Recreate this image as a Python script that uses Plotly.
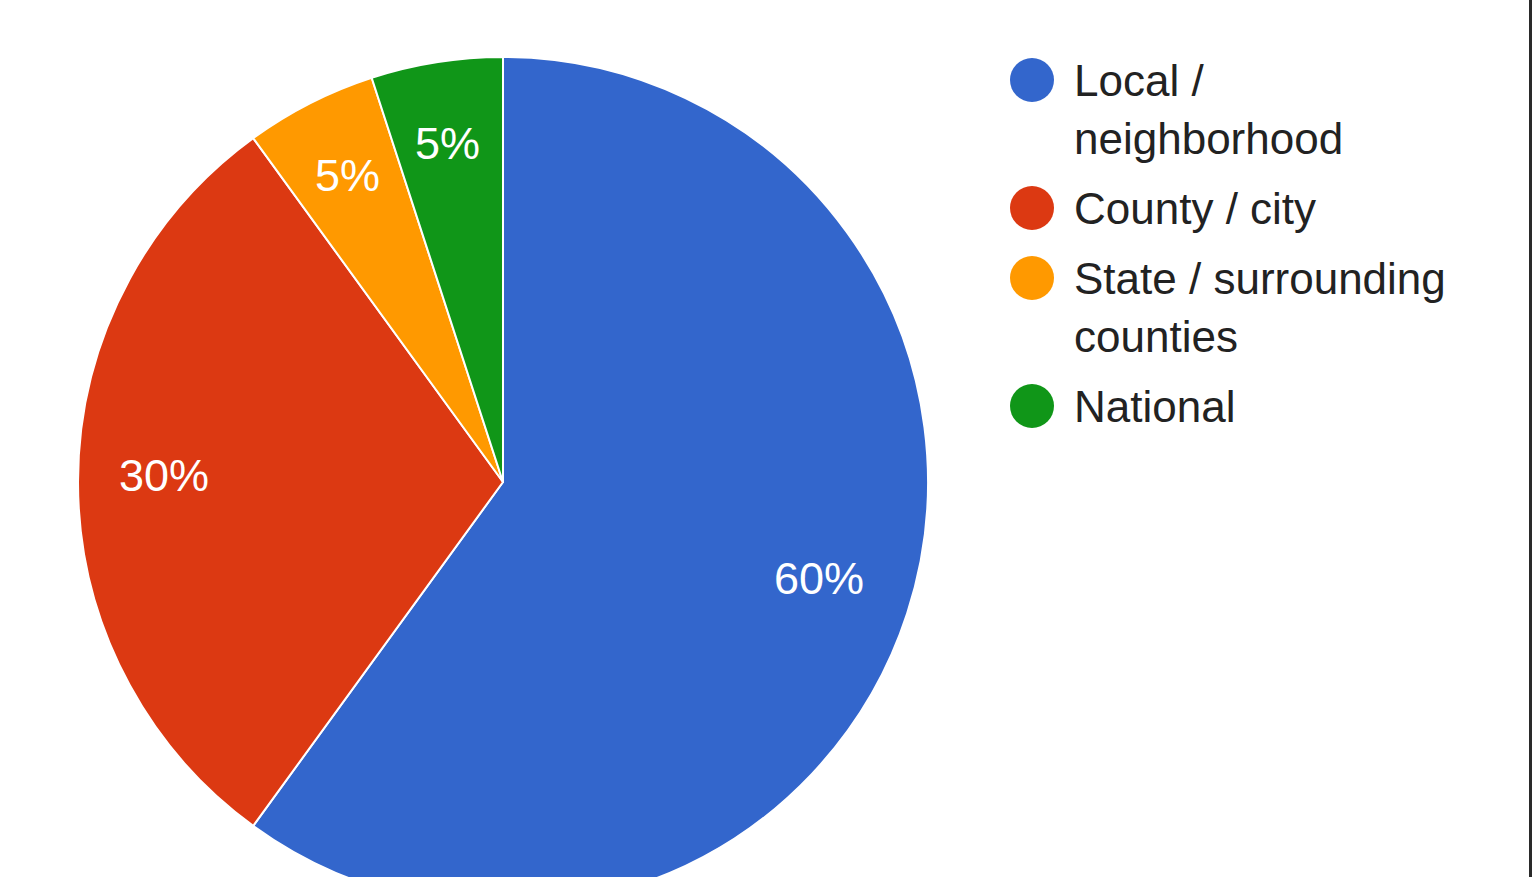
import math
import plotly.graph_objects as go

# ---- data ----
categories = ["Local / neighborhood", "County / city", "State / surrounding counties", "National"]
legend_lines = [["Local /", "neighborhood"], ["County / city"], ["State / surrounding", "counties"], ["National"]]
values = [60, 30, 5, 5]
colors = ["#3366cc", "#dc3912", "#ff9900", "#109618"]

# ---- layout geometry (pixels) ----
W, H = 1533, 1000
CX, CY, R = 503, 482, 425
FONT = "Liberation Sans, Arial, sans-serif"

fig = go.Figure()
fig.add_trace(go.Pie(
    labels=categories, values=values, sort=False, direction="clockwise", rotation=0,
    marker=dict(colors=colors, line=dict(color="white", width=2)),
    textinfo="none", hoverinfo="label+percent", showlegend=False,
    domain=dict(x=[(CX - 445) / W, (CX + 445) / W],
                y=[1 - (CY + R) / H, 1 - (CY - R) / H]),
))

# slice labels (positions derived from the data)
total = sum(values)
cum = 0
annotations = []
for v in values:
    mid = (cum + v / 2) / total
    cum += v
    th = 2 * math.pi * mid
    rr = R * 0.79
    annotations.append(dict(
        x=CX + rr * math.sin(th), y=CY - rr * math.cos(th), xref="x", yref="y",
        text=f"{round(100 * v / total)}%", showarrow=False, xshift=-3, yshift=7,
        font=dict(family=FONT, size=45, color="white"),
        xanchor="center", yanchor="middle"))

# custom legend with circle symbols
LX, LTX, LY0, LINE, STEP = 1032, 1072, 80, 58, 70
y = LY0
for i, lines in enumerate(legend_lines):
    fig.add_trace(go.Scatter(x=[LX], y=[y], mode="markers", showlegend=False, hoverinfo="skip",
                             marker=dict(size=44, color=colors[i], line=dict(width=0)),
                             xaxis="x", yaxis="y"))
    for j, line in enumerate(lines):
        annotations.append(dict(x=LTX, y=y + j * LINE, xref="x", yref="y", text=line,
                                showarrow=False, xanchor="left", yanchor="middle",
                                font=dict(family=FONT, size=44, color="#222222")))
    y += (len(lines) - 1) * LINE + STEP

fig.update_layout(
    width=W, height=H, margin=dict(l=0, r=0, t=0, b=0),
    paper_bgcolor="white", plot_bgcolor="rgba(0,0,0,0)",
    xaxis=dict(range=[0, W], visible=False, fixedrange=True),
    yaxis=dict(range=[H, 0], visible=False, fixedrange=True),
    annotations=annotations,
    shapes=[dict(type="line", xref="x", yref="y", x0=1530.5, x1=1530.5, y0=0, y1=H,
                 line=dict(color="#2a2a2a", width=3))],
    showlegend=False,
)

fig.write_html("out.html", config={"displayModeBar": False},
               post_script="document.documentElement.style.overflow='hidden';document.body.style.overflow='hidden';")
